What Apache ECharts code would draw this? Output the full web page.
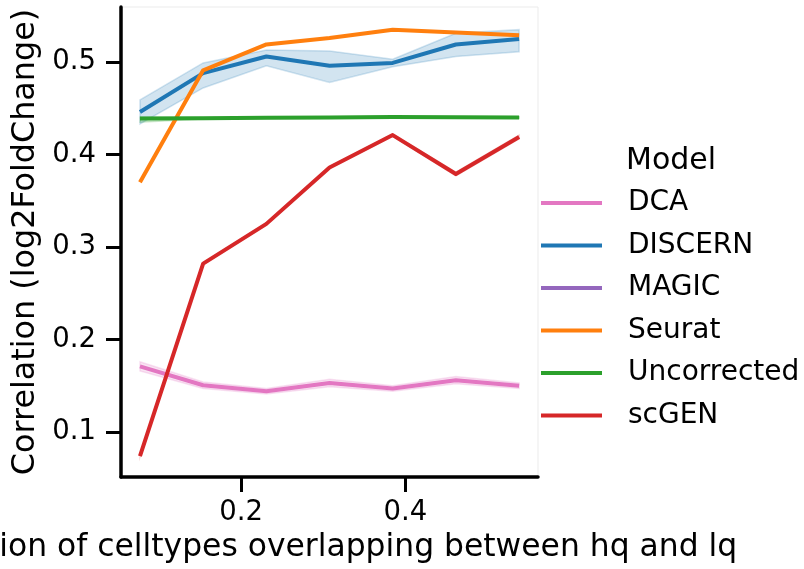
<!DOCTYPE html>
<html>
<head>
<meta charset="utf-8">
<script src="https://cdn.jsdelivr.net/npm/echarts@6/dist/echarts.min.js"></script>
<style>
html,body{margin:0;padding:0;background:#fff;}
#chart{width:804px;height:569px;}
</style>
</head>
<body>
<div id="chart"></div>
<script>
// ---- data ----
const xValues = [0.0769, 0.1538, 0.2308, 0.3077, 0.3846, 0.4615, 0.5385];
const models = ['DCA', 'DISCERN', 'MAGIC', 'Seurat', 'Uncorrected', 'scGEN'];
const DCA = [0.171, 0.1505, 0.144, 0.153, 0.147, 0.156, 0.150];
const DCA_lo = [0.166, 0.147, 0.141, 0.149, 0.144, 0.152, 0.147];
const DCA_hi = [0.176, 0.154, 0.147, 0.157, 0.150, 0.160, 0.153];
const DISCERN = [0.446, 0.488, 0.506, 0.496, 0.499, 0.519, 0.525];
const DISCERN_lo = [0.433, 0.472, 0.496, 0.478, 0.495, 0.506, 0.511];
const DISCERN_hi = [0.459, 0.499, 0.513, 0.512, 0.503, 0.531, 0.535];
const MAGIC = [];
const Seurat = [0.370, 0.491, 0.519, 0.526, 0.535, 0.532, 0.529];
const Uncorrected = [0.439, 0.4393, 0.4397, 0.440, 0.4405, 0.4402, 0.440];
const Uncorrected_lo = [0.435, 0.4385, 0.439, 0.4393, 0.4398, 0.4395, 0.4393];
const Uncorrected_hi = [0.4405, 0.440, 0.4404, 0.4407, 0.4412, 0.4409, 0.4407];
const scGEN = [0.074, 0.282, 0.325, 0.386, 0.421, 0.379, 0.419];
const scGEN_lo = [0.073, 0.281, 0.324, 0.385, 0.420, 0.377, 0.417];
const scGEN_hi = [0.075, 0.283, 0.326, 0.387, 0.422, 0.381, 0.421];
const yTicks = [0.1, 0.2, 0.3, 0.4, 0.5];
const xTicks = [0.2, 0.4];

const colors = {
  DCA: '#e377c2', DISCERN: '#1f77b4', MAGIC: '#9467bd',
  Seurat: '#ff7f0e', Uncorrected: '#2ca02c', scGEN: '#d62728'
};
function rgba(hex, a) {
  const n = parseInt(hex.slice(1), 16);
  return 'rgba(' + (n >> 16) + ',' + ((n >> 8) & 255) + ',' + (n & 255) + ',' + a + ')';
}
function pairs(ys) { return ys.map((y, i) => [xValues[i], y]); }

function band(name, lo, hi) {
  const c = colors[name];
  return {
    type: 'custom', name: name + ' band', silent: true,
    data: [[xValues[0], lo[0]]],
    renderItem: function (params, api) {
      const pts = [];
      for (let i = 0; i < xValues.length; i++) pts.push(api.coord([xValues[i], hi[i]]));
      for (let i = xValues.length - 1; i >= 0; i--) pts.push(api.coord([xValues[i], lo[i]]));
      return {
        type: 'polygon', shape: { points: pts },
        style: { fill: rgba(c, 0.2), stroke: rgba(c, 0.2), lineWidth: 1.5 }
      };
    }
  };
}
function line(name, ys) {
  return {
    type: 'line', name: name, data: pairs(ys), showSymbol: false, symbol: 'none',
    color: colors[name],
    lineStyle: { color: colors[name], width: 4, join: 'round' },
    emphasis: { disabled: true }, animation: false
  };
}

const FONT = 'DejaVu Sans';
const chart = echarts.init(document.getElementById('chart'), null, { renderer: 'canvas' });
chart.setOption({
  animation: false,
  backgroundColor: '#fff',
  grid: { left: 121, right: 266, top: 7, bottom: 92, outerBoundsMode: 'none', containLabel: false,
    show: true, borderColor: '#ebebeb', borderWidth: 1, backgroundColor: 'transparent' },
  title: {
    text: 'Model', left: 626, top: 146, padding: 0,
    textStyle: { fontFamily: FONT, fontSize: 30, fontWeight: 'normal', color: '#000' }
  },
  legend: {
    data: models, orient: 'vertical', left: 541, top: 188, padding: 0,
    icon: 'rect', itemWidth: 61, itemHeight: 4, itemGap: 12.5,
    selectedMode: false,
    textStyle: { fontFamily: FONT, fontSize: 28, color: '#000', lineHeight: 30, padding: [0, 0, 0, 21] }
  },
  xAxis: {
    type: 'value', min: 0.0538, max: 0.5615,
    name: 'Fraction of celltypes overlapping between hq and lq',
    nameLocation: 'middle', nameGap: 53,
    nameTextStyle: { fontFamily: FONT, fontSize: 31.4, color: '#000' },
    axisLine: { show: true, onZero: false, lineStyle: { color: '#000', width: 3.5 } },
    axisTick: { show: true, length: 15, lineStyle: { color: '#000', width: 3 }, customValues: xTicks },
    axisLabel: { fontFamily: FONT, fontSize: 27.5, color: '#000', margin: 22, customValues: xTicks,
      formatter: v => v.toFixed(1) },
    splitLine: { show: false }
  },
  yAxis: {
    type: 'value', min: 0.0513, max: 0.5595,
    name: 'Correlation (log2FoldChange)',
    nameLocation: 'middle', nameGap: 79,
    nameTextStyle: { fontFamily: FONT, fontSize: 31.8, color: '#000' },
    axisLine: { show: true, onZero: false, lineStyle: { color: '#000', width: 3.5 } },
    axisTick: { show: true, length: 15, lineStyle: { color: '#000', width: 3 }, customValues: yTicks },
    axisLabel: { fontFamily: FONT, fontSize: 27.5, color: '#000', margin: 25, customValues: yTicks,
      formatter: v => v.toFixed(1) },
    splitLine: { show: false }
  },
  series: [
    band('DCA', DCA_lo, DCA_hi),
    line('DCA', DCA),
    band('DISCERN', DISCERN_lo, DISCERN_hi),
    line('DISCERN', DISCERN),
    line('MAGIC', MAGIC),
    line('Seurat', Seurat),
    band('Uncorrected', Uncorrected_lo, Uncorrected_hi),
    line('Uncorrected', Uncorrected),
    band('scGEN', scGEN_lo, scGEN_hi),
    line('scGEN', scGEN)
  ]
});
</script>
</body>
</html>
